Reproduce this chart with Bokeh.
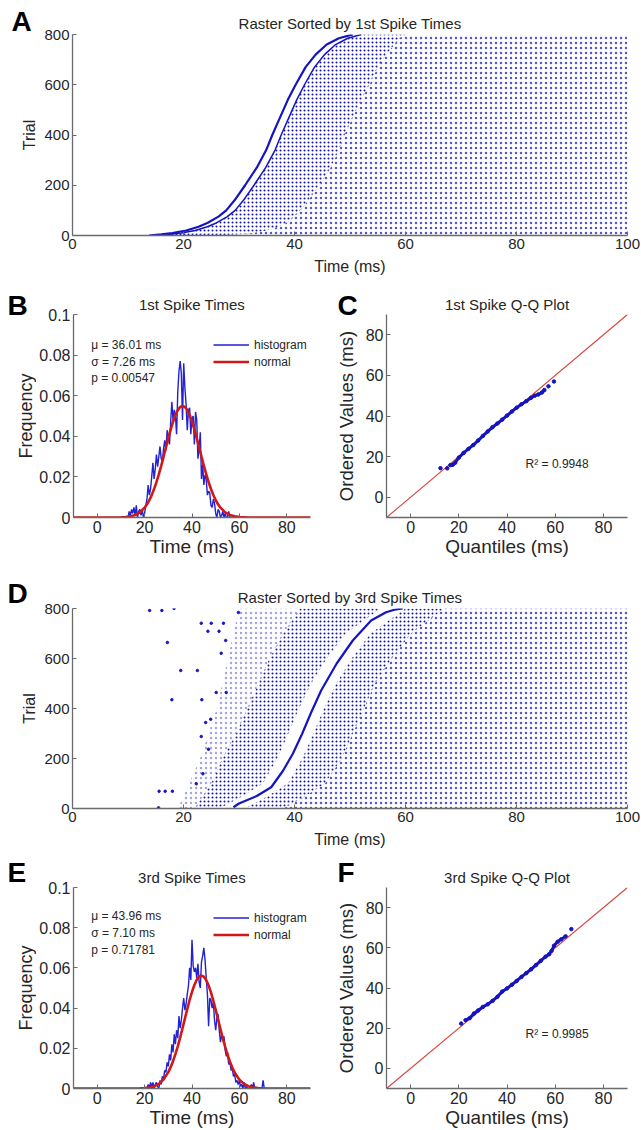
import numpy as np
from bokeh.plotting import figure
from bokeh.models import Range1d, FixedTicker, NumeralTickFormatter, Label, Legend, LegendItem
from bokeh.core.properties import value
from bokeh.layouts import column, row
from bokeh.embed import file_html
from bokeh.resources import INLINE

FONT = "Liberation Sans"
TXT = "#262626"
AXC = "#6a6a6a"
LINEBLUE = "#1414c0"
BLUE = "#2222d4"
RED = "#d01818"
QQRED = "#d8453c"
DENSE = "#1414a8"
SPARSE = "#5656cc"
FAINT = "#a4a4e2"

# ---------------- data ----------------
# Panel A: raster sorted by 1st spike times
a_first_trial = [0, 5, 10, 20, 35, 50, 75, 100, 140, 200, 270, 340, 400, 470, 540, 600, 670, 720, 760, 785, 800]
a_first_time = [13.8, 16.0, 18.0, 20.5, 22.7, 24.3, 26.3, 27.7, 29.2, 31.1, 33.2, 34.9, 36.0, 37.4, 38.8, 40.2, 42.0, 43.8, 45.8, 48.0, 50.5]
a_second_time = [15.5, 17.6, 19.6, 22.1, 24.3, 25.9, 27.9, 29.3, 30.8, 32.7, 34.8, 36.5, 37.6, 39.0, 40.4, 41.8, 43.6, 45.4, 47.4, 49.6, 52.0]
a_dense_end = [26.0, 30.0, 32.5, 35.0, 37.0, 38.5, 40.0, 41.0, 42.5, 44.5, 46.5, 48.0, 49.0, 50.5, 52.0, 53.5, 55.0, 56.5, 58.0, 59.0, 60.0]

# Panel D: raster sorted by 3rd spike times
d_third_trial = [5, 20, 50, 85, 150, 219, 300, 379, 472, 580, 672, 752, 785, 795, 800]
d_third_time = [29.0, 30.0, 33.2, 35.8, 37.9, 39.7, 41.4, 42.9, 44.8, 47.6, 50.5, 53.8, 56.5, 58.0, 59.5]
d_zone_trial = [0, 50, 100, 200, 300, 400, 500, 600, 700, 800]
d_sparse_start = [19.0, 20.0, 21.0, 23.0, 24.5, 26.0, 27.0, 28.0, 29.0, 30.0]
d_dense_start = [22.0, 23.5, 25.0, 27.0, 29.5, 31.5, 33.5, 35.5, 38.0, 41.0]
d_dense_end = [26.5, 30.7, 34.3, 36.9, 38.9, 40.8, 43.0, 45.8, 49.2, 55.5]
d_band_start = [31.0, 35.2, 38.8, 41.4, 43.4, 45.3, 47.5, 50.3, 53.7, 60.0]
d_band_end = [38.0, 42.0, 45.5, 48.5, 50.5, 52.5, 54.5, 57.5, 61.0, 67.0]
d_iso_time = [13.9, 16.1, 18.3, 17.1, 19.5, 22.5, 17.9, 23.3, 23.2, 25.0, 27.2, 24.4, 26.4, 29.9,
              27.6, 26.8, 25.9, 27.7, 24.0, 24.9, 23.2, 24.5, 15.6, 16.7, 18.0, 22.3, 23.5, 15.5]
d_iso_trial = [792, 792, 800, 664, 552, 552, 435, 435, 741, 741, 741, 709, 709, 784,
               672, 621, 464, 464, 344, 357, 288, 237, 69, 69, 69, 99, 139, 3]

# Panel B: 1st spike time histogram (0.5 ms steps from 13 ms) and normal fit
b_hist_start = 13.0
b_hist_step = 0.5
b_hist = [0, 0.003, 0.001, 0.004, 0.002, 0.005, 0.001, 0.006, 0.0, 0.003, 0.004, 0.001, 0.004, 0.0,
          0.002, 0.006, 0.009, 0.016, 0.011, 0.014, 0.020, 0.027, 0.019, 0.024, 0.031, 0.025, 0.030,
          0.035, 0.029, 0.028, 0.034, 0.038, 0.033, 0.043, 0.040, 0.036, 0.047, 0.057, 0.048, 0.053,
          0.050, 0.041, 0.062, 0.072, 0.077, 0.071, 0.048, 0.076, 0.064, 0.056, 0.043, 0.053, 0.054,
          0.041, 0.049, 0.050, 0.036, 0.052, 0.048, 0.029, 0.034, 0.042, 0.019, 0.026, 0.016, 0.021,
          0.019, 0.011, 0.013, 0.012, 0.006, 0.005, 0.009, 0.007, 0.002, 0.0, 0.004, 0.003, 0.0,
          0.001, 0.003, 0.0, 0.002, 0.0, 0.0, 0.003, 0.0, 0.0, 0.0]
b_norm_t = [-10, 8, 10, 12, 14, 16, 18, 20, 21, 22, 23, 24, 25, 26, 27, 28, 29, 30, 31, 32, 33, 34, 35, 36,
            37, 38, 39, 40, 41, 42, 43, 44, 45, 46, 47, 48, 49, 50, 51, 52, 54, 56, 58, 60, 64, 90]
b_norm = [0, 0.00003, 0.00009, 0.00023, 0.00055, 0.00123, 0.00253, 0.00483, 0.00648, 0.00853, 0.01103,
          0.01399, 0.01740, 0.02124, 0.02544, 0.02990, 0.03448, 0.03901, 0.04331, 0.04717, 0.05043,
          0.05288, 0.05442, 0.05495, 0.05444, 0.05292, 0.05048, 0.04725, 0.04339, 0.03910, 0.03457,
          0.02999, 0.02553, 0.02132, 0.01747, 0.01405, 0.01109, 0.00858, 0.00652, 0.00486, 0.00255,
          0.00124, 0.00056, 0.00023, 0.00003, 0]
b_stats = ["\u03bc = 36.01 ms", "\u03c3 = 7.26 ms", "p = 0.00547"]

# Panel E: 3rd spike time histogram (0.5 ms steps from 21 ms) and normal fit
e_hist_start = 21.0
e_hist_step = 0.5
e_hist = [0, 0.002, 0.0, 0.003, 0.001, 0.003, 0.0, 0.002, 0.003, 0.001, 0.0, 0.004, 0.002, 0.006,
          0.005, 0.009, 0.008, 0.013, 0.011, 0.017, 0.014, 0.022, 0.018, 0.027, 0.022, 0.029, 0.025,
          0.036, 0.030, 0.034, 0.040, 0.045, 0.039, 0.042, 0.047, 0.051, 0.060, 0.054, 0.074, 0.061,
          0.058, 0.060, 0.055, 0.062, 0.053, 0.050, 0.063, 0.066, 0.070, 0.064, 0.055, 0.047, 0.031,
          0.045, 0.044, 0.040, 0.043, 0.034, 0.029, 0.035, 0.037, 0.029, 0.023, 0.027, 0.024, 0.026,
          0.019, 0.016, 0.018, 0.012, 0.013, 0.009, 0.010, 0.006, 0.007, 0.003, 0.004, 0.002, 0.004,
          0.001, 0.002, 0.0, 0.003, 0.0, 0.001, 0.0, 0.0, 0.0, 0.002, 0.0, 0.003, 0.0, 0.0, 0.0, 0.0,
          0.0, 0.0, 0.0, 0.004, 0.0, 0.0]
e_norm_t = [-10, 14, 16, 18, 20, 22, 24, 26, 28, 30, 31, 32, 33, 34, 35, 36, 37, 38, 39, 40, 41, 42, 43, 44,
            45, 46, 47, 48, 49, 50, 51, 52, 53, 54, 55, 56, 57, 58, 60, 62, 64, 66, 68, 70, 74, 90]
e_norm = [0, 0.00001, 0.00002, 0.00007, 0.00019, 0.00047, 0.00108, 0.00229, 0.00449, 0.00813, 0.01062,
          0.01360, 0.01707, 0.02100, 0.02534, 0.02997, 0.03475, 0.03951, 0.04403, 0.04810, 0.05151,
          0.05409, 0.05568, 0.05619, 0.05559, 0.05392, 0.05127, 0.04779, 0.04368, 0.03913, 0.03437,
          0.02960, 0.02498, 0.02068, 0.01677, 0.01335, 0.01040, 0.00795, 0.00438, 0.00223, 0.00105,
          0.00045, 0.00018, 0.00007, 0.00001, 0]
e_stats = ["\u03bc = 43.96 ms", "\u03c3 = 7.10 ms", "p = 0.71781"]

# Panels C and F: Q-Q plots
qq_ref = [-10, 90]
c_q = [12.4, 15.2, 16.5, 17.5, 18.5, 20.0, 22.0, 24.0, 26.0, 28.0, 30.0, 32.0, 34.0, 36.0, 38.0, 40.0,
       42.0, 44.0, 46.0, 48.0, 50.0, 51.5, 53.0, 54.5, 55.5, 57.2, 59.5]
c_v = [14.3, 14.2, 15.8, 16.0, 17.0, 19.5, 21.8, 23.8, 25.7, 27.9, 30.2, 32.4, 34.5, 36.3, 38.2, 40.2,
       42.2, 44.1, 45.8, 47.3, 49.0, 50.0, 50.6, 51.6, 52.8, 54.6, 57.0]
c_r2 = "R\u00b2 = 0.9948"
f_q = [21.0, 22.8, 24.5, 26.3, 28.0, 30.0, 32.0, 34.0, 36.0, 38.0, 40.0, 42.0, 44.0, 46.0, 48.0, 50.0,
       52.0, 54.0, 56.0, 57.5, 58.5, 59.5, 61.0, 62.5, 64.3, 66.7]
f_v = [22.3, 24.0, 25.0, 27.3, 28.8, 30.6, 31.9, 33.6, 35.6, 38.2, 39.8, 41.6, 43.5, 45.5, 47.4, 49.3,
       51.4, 53.5, 55.6, 56.8, 58.5, 61.0, 63.0, 64.2, 65.7, 69.3]
f_r2 = "R\u00b2 = 0.9985"

time_ticks = [0, 20, 40, 60, 80, 100]
trial_ticks = [0, 200, 400, 600, 800]
small_ticks = [0, 20, 40, 60, 80]
freq_ticks = [0, 0.02, 0.04, 0.06, 0.08, 0.1]


# ---------------- helpers ----------------
def base_fig(w, h, xr, yr, title, xlab, mb, tick_fs, lab_fs, xt, yt, standoff, lab_standoff):
    p = figure(width=w, height=h, x_range=Range1d(*xr), y_range=Range1d(*yr),
               output_backend="svg", toolbar_location=None,
               min_border_left=mb[0], min_border_right=mb[1],
               min_border_top=mb[2], min_border_bottom=mb[3])
    p.title.text = title
    p.title.align = "center"
    p.title.text_font = FONT
    p.title.text_font_size = "15px"
    p.title.text_font_style = "normal"
    p.title.text_color = TXT
    p.title.standoff = standoff
    p.outline_line_color = None
    p.xgrid.visible = False
    p.ygrid.visible = False
    p.xaxis.axis_label = xlab
    p.xaxis.ticker = FixedTicker(ticks=xt)
    p.yaxis.ticker = FixedTicker(ticks=yt)
    for ax in p.xaxis + p.yaxis:
        ax.axis_line_color = AXC
        ax.axis_line_width = 1.3
        ax.major_tick_line_color = AXC
        ax.major_tick_in = 4
        ax.major_tick_out = 0
        ax.minor_tick_line_color = None
        ax.major_label_text_font = FONT
        ax.major_label_text_font_size = tick_fs
        ax.major_label_text_color = TXT
        ax.axis_label_text_font = FONT
        ax.axis_label_text_font_size = lab_fs
        ax.axis_label_text_font_style = "normal"
        ax.axis_label_text_color = TXT
        ax.major_label_standoff = 3
        ax.axis_label_standoff = lab_standoff
    return p


def side_fig(w, h, ch, lx, standoff, ylab, cx, lab_fs, mb_top, mb_bottom):
    """Narrow strip left of a panel: panel letter (as its title) and the rotated y-axis title.
    Its frame lines up with the neighbouring panel's frame."""
    p = figure(width=w, height=h, x_range=Range1d(0, w), y_range=Range1d(0, 1),
               output_backend="svg", toolbar_location=None, min_border=0,
               min_border_top=mb_top, min_border_bottom=mb_bottom,
               x_axis_location=None, y_axis_location=None, title=ch)
    p.title.align = "left"
    p.title.offset = lx
    p.title.standoff = standoff
    p.title.text_font = FONT
    p.title.text_font_size = "28px"
    p.title.text_font_style = "bold"
    p.title.text_color = "black"
    p.xgrid.visible = False
    p.ygrid.visible = False
    p.outline_line_color = None
    p.text(x=[cx], y=[0.5], text=[ylab], angle=np.pi / 2, text_font=value(FONT),
           text_font_size=value(lab_fs), text_color=TXT,
           text_align="center", text_baseline="middle")
    return p


def zone(p, trials, left, right, color, scale):
    xs = list(left) + list(right)[::-1]
    ys = list(trials) + list(trials)[::-1]
    p.patch(xs, ys, fill_color=None, line_color=None,
            hatch_pattern="dot", hatch_color=color, hatch_scale=scale)


def text_at(p, x, y, s, size="12px"):
    p.add_layout(Label(x=x, y=y, text=s, text_font=FONT, text_font_size=size,
                       text_color=TXT, text_align="left", text_baseline="middle"))


def hist_legend(p, r1, r2, loc):
    leg = Legend(items=[LegendItem(label="histogram", renderers=[r1]),
                        LegendItem(label="normal", renderers=[r2])],
                 location=loc, glyph_width=36, glyph_height=17, label_height=17,
                 label_standoff=5, spacing=0, padding=0, margin=0,
                 border_line_alpha=0, background_fill_alpha=0,
                 label_text_font=FONT, label_text_font_size="12px", label_text_color=TXT)
    p.add_layout(leg)


# ---------------- row 1: panel A ----------------
HA = 283
sA = side_fig(38, HA, "A", 11, -5, "Trial", 29, "16px", 34, 48)
pA = base_fig(602, HA, (0, 100), (0, 800), "Raster Sorted by 1st Spike Times", "Time (ms)",
              (34, 13, 34, 48), "15px", "16px", time_ticks, trial_ticks, 5, 6)
edge100 = [100] * len(a_first_trial)
zone(pA, a_first_trial, a_dense_end, edge100, SPARSE, 5)
zone(pA, a_first_trial, a_second_time, a_dense_end, DENSE, 4)
pA.line(a_second_time, a_first_trial, line_color=LINEBLUE, line_width=1.5)
pA.line(a_first_time, a_first_trial, line_color=LINEBLUE, line_width=2.2)

# ---------------- row 2: panels B and C ----------------
HB = 292
sB = side_fig(36, HB, "B", 7, -13, "Frequency", 25, "18px", 31, 58)
pB = base_fig(294, HB, (-10, 90), (0, 0.1), "1st Spike Times", "Time (ms)",
              (36, 20, 31, 58), "16px", "19px", small_ticks, freq_ticks, 4, 0)
pB.yaxis.formatter = NumeralTickFormatter(format="0.[00]")
b_t = [b_hist_start + b_hist_step * i for i in range(len(b_hist))]
rb1 = pB.line(b_t, b_hist, line_color=BLUE, line_width=1.4)
rb2 = pB.line(b_norm_t, b_norm, line_color=RED, line_width=2.6)
for s, yy in zip(b_stats, [0.0852, 0.0768, 0.0685]):
    text_at(pB, -2.5, yy, s)
hist_legend(pB, rb1, rb2, (140, 147))

sC = side_fig(30, HB, "C", 7, -13, "Ordered Values (ms)", 16, "18.5px", 31, 58)
pC = base_fig(281, HB, (-10, 90), (-10, 90), "1st Spike Q-Q Plot", "Quantiles (ms)",
              (26, 14, 31, 58), "16px", "19px", small_ticks, small_ticks, 4, 0)
pC.line(qq_ref, qq_ref, line_color=QQRED, line_width=1.1)
pC.line(c_q[2:-2], c_v[2:-2], line_color=LINEBLUE, line_width=3)
pC.scatter(c_q, c_v, size=3.5, color=LINEBLUE)
text_at(pC, 47.7, 16.3, c_r2)

# ---------------- row 3: panel D ----------------
HD = 280
sD = side_fig(38, HD, "D", 7, 0, "Trial", 29, "16px", 33, 47)
pD = base_fig(602, HD, (0, 100), (0, 800), "Raster Sorted by 3rd Spike Times", "Time (ms)",
              (34, 13, 33, 47), "15px", "16px", time_ticks, trial_ticks, 5, 6)
edgeD = [100] * len(d_zone_trial)
zone(pD, d_zone_trial, d_sparse_start, d_dense_start, FAINT, 5)
zone(pD, d_zone_trial, d_dense_start, d_dense_end, DENSE, 4)
zone(pD, d_zone_trial, d_band_start, d_band_end, DENSE, 4)
zone(pD, d_zone_trial, d_band_end, edgeD, SPARSE, 5)
pD.scatter(d_iso_time, d_iso_trial, size=2.5, color=LINEBLUE)
pD.line(d_third_time, d_third_trial, line_color=LINEBLUE, line_width=2.2)

# ---------------- row 4: panels E and F ----------------
HE = 275
sE = side_fig(36, HE, "E", 7, -1, "Frequency", 25, "18px", 32, 42)
pE = base_fig(294, HE, (-10, 90), (0, 0.1), "3rd Spike Times", "Time (ms)",
              (36, 20, 32, 42), "16px", "19px", small_ticks, freq_ticks, 4, 0)
pE.yaxis.formatter = NumeralTickFormatter(format="0.[00]")
e_t = [e_hist_start + e_hist_step * i for i in range(len(e_hist))]
re1 = pE.line(e_t, e_hist, line_color=BLUE, line_width=1.4)
re2 = pE.line(e_norm_t, e_norm, line_color=RED, line_width=2.6)
for s, yy in zip(e_stats, [0.0857, 0.0775, 0.069]):
    text_at(pE, -2.5, yy, s)
hist_legend(pE, re1, re2, (140, 145))

sF = side_fig(30, HE, "F", 7, -1, "Ordered Values (ms)", 16, "18.5px", 32, 42)
pF = base_fig(281, HE, (-10, 90), (-10, 90), "3rd Spike Q-Q Plot", "Quantiles (ms)",
              (26, 14, 32, 42), "16px", "19px", small_ticks, small_ticks, 4, 0)
pF.line(qq_ref, qq_ref, line_color=QQRED, line_width=1.1)
pF.line(f_q[1:-1], f_v[1:-1], line_color=LINEBLUE, line_width=3)
pF.scatter(f_q, f_v, size=3.5, color=LINEBLUE)
text_at(pF, 47.7, 16.9, f_r2)

layout = column(row(sA, pA), row(sB, pB, sC, pC), row(sD, pD), row(sE, pE, sF, pF))
open("out.html", "w").write(file_html(layout, INLINE, title="Spike time rasters"))
